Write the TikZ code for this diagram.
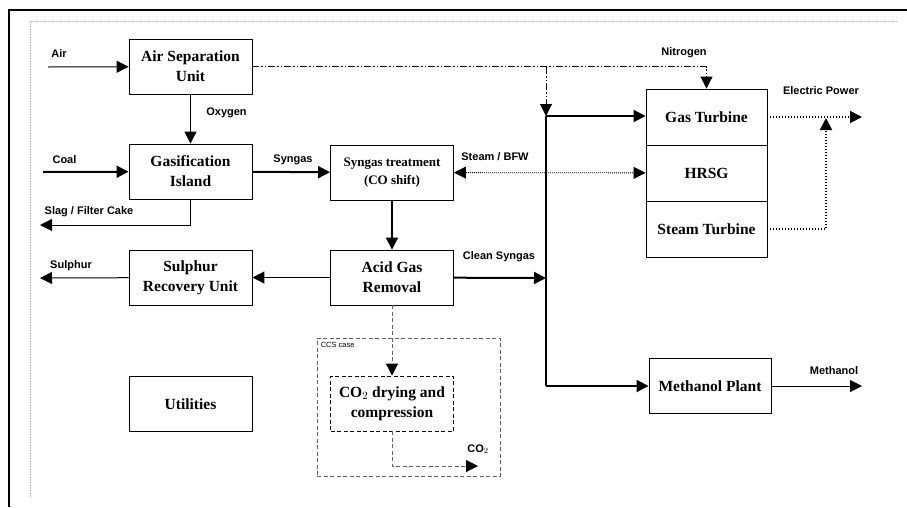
\documentclass[tikz,border=0pt]{standalone}
\usepackage{fontspec}
\setmainfont{Liberation Serif}
\setsansfont{Liberation Sans}
\usetikzlibrary{arrows.meta}
\definecolor{framegray}{rgb}{0.72, 0.72, 0.72}
\definecolor{ccsgray}{rgb}{0.38, 0.38, 0.38}

\begin{document}
\begin{tikzpicture}[x=1pt,y=-1pt]

		\tikzset{unit/.style = {shape=rectangle,draw,line width=0.9pt,minimum width=123pt,minimum height=55pt,inner sep=0pt,align=center,font=\fontsize{15.5}{20}\selectfont\bfseries}}
		\tikzset{flow/.style = {inner sep=0pt,font=\sffamily\bfseries\fontsize{11}{12}\selectfont}}
		\tikzset{edge/.style = {-{Triangle[length=12pt,width=12pt]},line width=1pt}}
		\tikzset{bigedge/.style = {edge,line width=2pt}}
		\useasboundingbox (0,0) rectangle (907,507);
		% frame
		\draw[line width=2.5pt] (907,10) -- (9,10) -- (9,507);
		\draw[framegray,densely dotted,line width=0.6pt] (897,21) -- (30,21) -- (30,498);

		% units
		% Left column
		\node[unit] (asu) at (190.5,66.5) {Air Separation\\Unit};
		\node[unit] (gasif) at (190.5,171.5) {Gasification\\Island};
		\node[unit] (sru) at (190.5,277.5) {Sulphur\\Recovery Unit};
		\node[unit] (util) at (190.5,404) {Utilities};
		% Middle column
		\node[unit,font=\fontsize{13}{18}\selectfont\bfseries] (shift) at (392,172.5) {Syngas treatment\\(CO shift)};
		\node[unit] (agr) at (392,277.5) {Acid Gas\\Removal};
		\node[draw,dash pattern=on 4pt off 2.5pt,ccsgray,line width=0.8pt,minimum width=183pt,minimum height=138pt] (ccs) at (408.5,407) {};
		\node[unit,dash pattern=on 4pt off 2.5pt] (dry) at (392,403.5) {CO$_2$ drying and\\compression};
		% Power block
		\node[unit,minimum width=121pt,minimum height=56pt] (gt) at (706.5,117) {Gas Turbine};
		\node[unit,minimum width=121pt,minimum height=56pt] (hrsg) at (706.5,173) {HRSG};
		\node[unit,minimum width=121pt,minimum height=56pt] (st) at (706.5,229) {Steam Turbine};
		\node[unit,minimum width=122pt] (meth) at (710,386) {Methanol Plant};

		% stream ends
		\coordinate (airin) at (48,67);
		\coordinate (coalin) at (43,172);
		\coordinate (slagout) at (40,225);
		\coordinate (sulout) at (40,278);
		\coordinate (bustop) at (546,116);
		\coordinate (busmid) at (546,278);
		\coordinate (busbot) at (546,386);
		\coordinate (n2split) at (546,67);
		\coordinate (powout) at (862,117);
		\coordinate (powjoin) at (826,118);
		\coordinate (methout) at (862,386);
		\coordinate (co2out) at (478,466);

		% labels
		\node[flow] (lair) at (59,54) {Air};
		\node[flow] (lcoal) at (64.5,160) {Coal};
		\node[flow] (loxy) at (226.5,112.5) {Oxygen};
		\node[flow] (lsyn) at (293,160) {Syngas};
		\node[flow] (lslag) at (89,212) {Slag / Filter Cake};
		\node[flow] (lsul) at (71,266) {Sulphur};
		\node[flow] (lclean) at (499,257) {Clean Syngas};
		\node[flow] (ln2) at (684,53) {Nitrogen};
		\node[flow] (lsteam) at (495,157) {Steam / BFW};
		\node[flow] (lpow) at (821,91) {Electric Power};
		\node[flow] (lmeth) at (834,371) {Methanol};
		\node[flow] (lco2) at (478,449) {CO$_2$};
		\node[inner sep=0pt,font=\sffamily\fontsize{7.5}{8}\selectfont,anchor=north west] (lccs) at ([shift={(4,4)}]ccs.north west) {CCS case};

		% edges
		% Feed and gasification
		\draw[edge] (airin) to (asu);
		\draw[bigedge] (coalin) to (gasif);
		\draw[edge] (asu) to (gasif);
		\draw[edge] (gasif.south) |- (slagout);
		\draw[bigedge] (gasif) to (shift);
		% Gas cleaning
		\draw[bigedge] (shift) to (agr);
		\draw[edge] (agr) to (sru);
		\draw[edge] (sru) to (sulout);
		\draw[bigedge] (agr) to (busmid);
		\draw[line width=2pt] (bustop) to (busbot);
		\draw[bigedge] (bustop) to (bustop -| gt.west);
		\draw[bigedge] (busbot) to (meth);
		\draw[edge,ccsgray,dash pattern=on 4pt off 2.5pt,-{Triangle[length=12pt,width=12pt,color=black]}] (agr) to (dry);
		\draw[edge,ccsgray,dash pattern=on 4pt off 2.5pt,-{Triangle[length=12pt,width=12pt,color=black]}] (dry.south) |- (co2out);
		% Nitrogen
		\draw[edge,dash pattern=on 7pt off 2pt on 1.5pt off 2pt on 1.5pt off 2pt] (asu.east) -| (gt);
		\draw[edge,dash pattern=on 7pt off 2pt on 1.5pt off 2pt on 1.5pt off 2pt] (n2split) to (bustop);
		% Steam and power
		\draw[edge,densely dotted,line width=0.8pt,{Triangle[length=12pt,width=12pt]}-{Triangle[length=12pt,width=12pt]}] (shift) to (hrsg);
		\draw[edge,dotted,line width=1.8pt] (gt) to (powout);
		\draw[edge,dotted,line width=1.8pt] (st.east) -| (powjoin);
		\draw[edge] (meth) to (methout);

\end{tikzpicture}
\end{document}
